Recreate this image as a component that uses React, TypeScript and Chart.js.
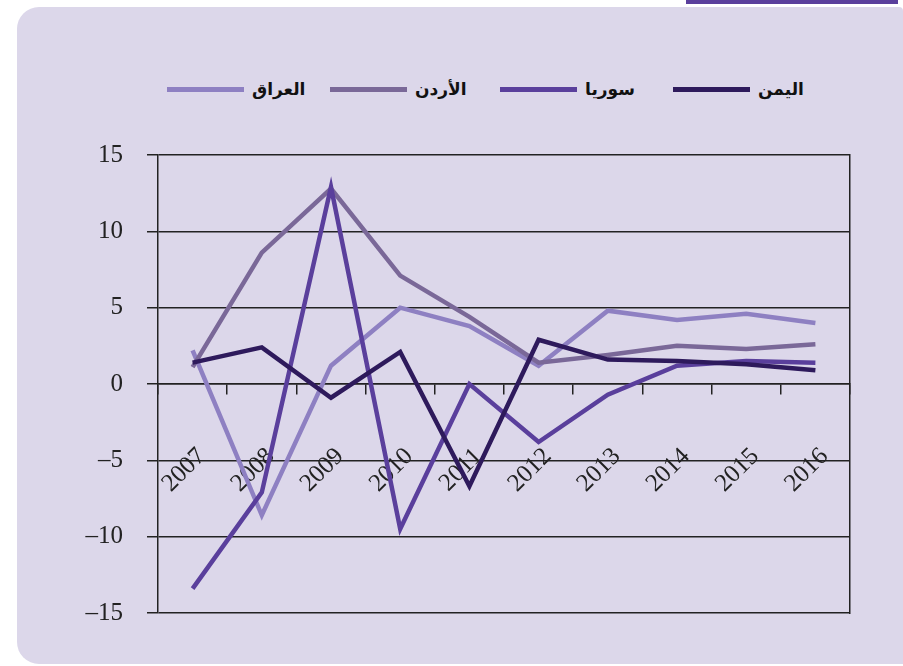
import React, { useEffect, useRef } from "react";
import { Chart, registerables } from "chart.js";

Chart.register(...registerables);

const years = ["2007", "2008", "2009", "2010", "2011", "2012", "2013", "2014", "2015", "2016"];
const iraq = [2.2, -8.6, 1.2, 5.0, 3.8, 1.2, 4.8, 4.2, 4.6, 4.0];
const jordan = [1.1, 8.6, 12.8, 7.1, 4.4, 1.4, 1.9, 2.5, 2.3, 2.6];
const syria = [-13.4, -7.1, 12.9, -9.5, 0.0, -3.8, -0.7, 1.2, 1.5, 1.4];
const yemen = [1.4, 2.4, -0.9, 2.1, -6.7, 2.9, 1.6, 1.5, 1.3, 0.9];

const nameYemen = "اليمن";
const nameSyria = "سوريا";
const nameJordan = "الأردن";
const nameIraq = "العراق";

const yMin = -15;
const yMax = 15;
const yStep = 5;

const colYemen = "#2e1a5c";
const colSyria = "#5a3f9c";
const colJordan = "#7a6898";
const colIraq = "#8e80c2";
const axisCol = "#222222";
const serif = "'Liberation Serif', 'Times New Roman', serif";

const legendItems = [
  { name: nameIraq, color: colIraq, left: 167 },
  { name: nameJordan, color: colJordan, left: 330 },
  { name: nameSyria, color: colSyria, left: 500 },
  { name: nameYemen, color: colYemen, left: 673 },
];

export default function App() {
  const ref = useRef<HTMLCanvasElement>(null);

  useEffect(() => {
    const canvas = ref.current;
    if (!canvas) return;
    const mk = (label: string, data: number[], color: string) => ({
      label,
      data,
      borderColor: color,
      backgroundColor: color,
      borderWidth: 4.5,
      pointRadius: 0,
      pointHoverRadius: 0,
      tension: 0,
      fill: false,
      borderCapStyle: "butt" as const,
      borderJoinStyle: "miter" as const,
    });
    const chart = new Chart(canvas, {
      type: "line",
      data: {
        labels: years,
        datasets: [
          mk(nameYemen, yemen, colYemen),
          mk(nameSyria, syria, colSyria),
          mk(nameJordan, jordan, colJordan),
          mk(nameIraq, iraq, colIraq),
        ],
      },
      options: {
        animation: false,
        responsive: false,
        maintainAspectRatio: false,
        layout: { padding: { top: 155, bottom: 53, left: 0, right: 0 } },
        plugins: { legend: { display: false }, tooltip: { enabled: false } },
        scales: {
          x: {
            type: "category",
            position: { y: 0 } as any,
            offset: true,
            grid: {
              offset: true,
              drawOnChartArea: false,
              drawTicks: true,
              tickLength: 10,
              color: axisCol,
              lineWidth: 1.5,
            },
            border: { display: true, color: axisCol, width: 1.5 },
            ticks: {
              autoSkip: false,
              minRotation: 45,
              maxRotation: 45,
              labelOffset: 9,
              padding: 48,
              color: axisCol,
              font: { family: serif, size: 25 },
            },
          },
          y: {
            position: "left",
            min: yMin,
            max: yMax,
            ticks: {
              stepSize: yStep,
              padding: 24,
              color: axisCol,
              font: { family: serif, size: 25 },
              callback: (v: any) => (Number(v) < 0 ? "\u2013" + Math.abs(Number(v)) : String(v)),
            },
            grid: { color: axisCol, lineWidth: 1.5, tickLength: 11 },
            border: { display: true, color: axisCol, width: 1.5 },
            afterFit: (s: any) => {
              s.width = 158;
            },
          },
          y2: {
            position: "right",
            min: yMin,
            max: yMax,
            ticks: { display: false },
            grid: { drawOnChartArea: false, drawTicks: false },
            border: { display: true, color: axisCol, width: 1.5 },
            afterFit: (s: any) => {
              s.width = 53;
            },
          },
        },
      },
    } as any);
    return () => chart.destroy();
  }, []);

  return (
    <div style={{ position: "fixed", left: 0, top: 0, width: 903, height: 666, background: "#ffffff", overflow: "hidden" }}>
      <div style={{ position: "absolute", left: 686, top: 0, width: 212, height: 4, background: colSyria }} />
      <div
        style={{
          position: "absolute",
          left: 17,
          top: 7,
          width: 886,
          height: 657,
          background: "#dcd7ea",
          borderTopLeftRadius: 22,
          borderBottomLeftRadius: 22,
          borderTopRightRadius: 4,
        }}
      />
      {legendItems.map((it) => (
        <div
          key={it.name}
          style={{
            position: "absolute",
            left: it.left,
            top: 75,
            height: 28,
            display: "flex",
            alignItems: "center",
            gap: 8,
          }}
        >
          <div style={{ width: 77, height: 5, background: it.color }} />
          <span
            style={{
              fontFamily: "'DejaVu Sans', sans-serif",
              fontWeight: "bold",
              fontSize: 17,
              color: "#111111",
              whiteSpace: "nowrap",
            }}
          >
            {it.name}
          </span>
        </div>
      ))}
      <canvas
        ref={ref}
        width={903}
        height={666}
        style={{ position: "absolute", left: 0, top: 0, width: 903, height: 666 }}
      />
    </div>
  );
}
